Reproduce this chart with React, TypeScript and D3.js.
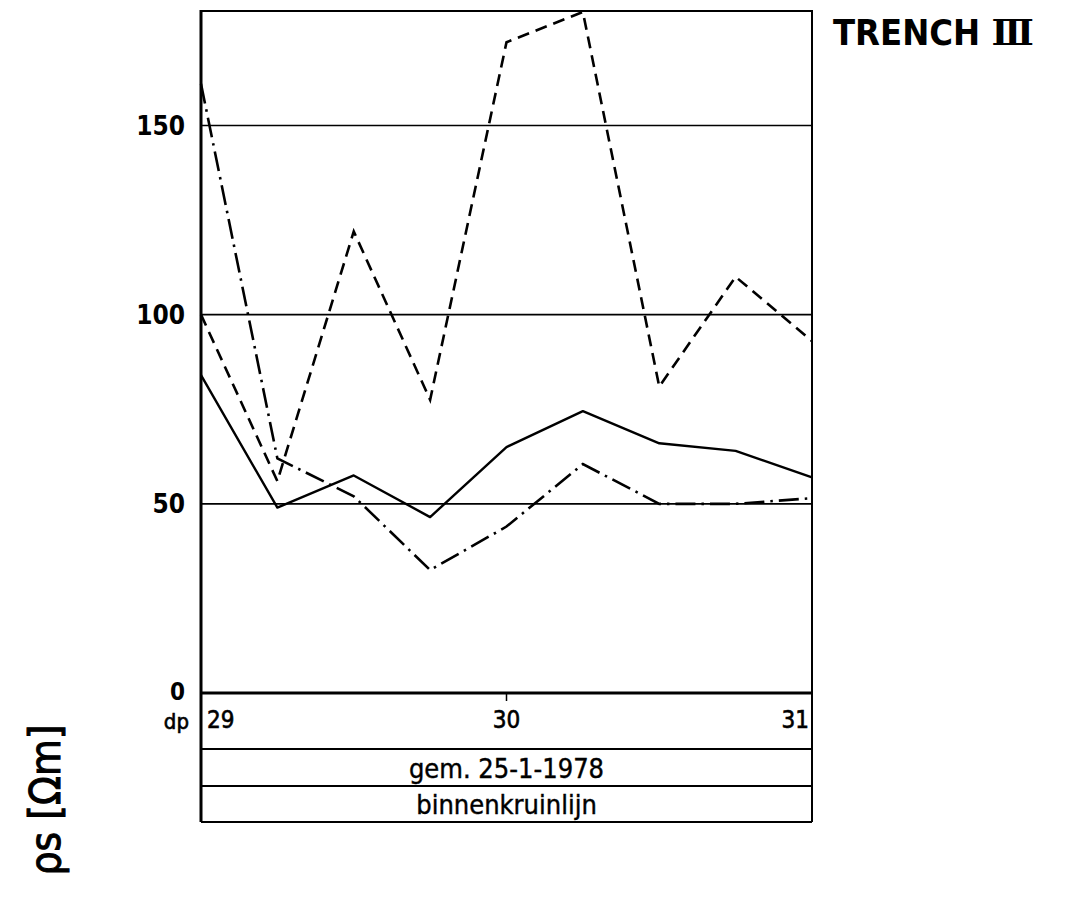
import React from "react";
import * as d3 from "d3";

const dp = [29, 29.25, 29.5, 29.75, 30, 30.25, 30.5, 30.75, 31];
const solidValues = [84, 49, 57.5, 46.5, 65, 74.5, 66, 64, 57];
const dashDotValues = [161, 62, 52, 32.5, 44, 60.5, 50, 50, 51.5];
const dashedValues = [100, 56, 122, 77.5, 172, 180, 81, 110, 93];
const yTicks = [0, 50, 100, 150];
const gridTicks = [50, 100, 150];
const xTicks = [29, 30, 31];
const title = "TRENCH ";
const titleNumeral = "III";
const dateLabel = "gem. 25-1-1978";
const lineLabel = "binnenkruinlijn";

export default function App() {
  const W = 1070, H = 903;
  const left = 201, right = 812, top = 12, bottom = 693;
  const x = d3.scaleLinear().domain([29, 31]).range([left, right]);
  const y = d3.scaleLinear().domain([0, 180]).range([bottom, top]);
  const line = d3.line<number>().x((_, i) => x(dp[i])).y((v) => y(v));
  const condFont = "'DejaVu Sans Condensed', 'DejaVu Sans', sans-serif";
  const rowLine1 = 749, rowLine2 = 786, boxBottom = 822;

  return (
    <svg width={W} height={H} style={{ position: "absolute", left: 0, top: 0, background: "#fff" }}>
      <rect x={0} y={0} width={W} height={H} fill="#fff" />
      {/* grid lines */}
      {gridTicks.map((t) => (
        <line key={t} x1={left} x2={right} y1={y(t)} y2={y(t)} stroke="#000" strokeWidth={1.6} />
      ))}
      {/* frame */}
      <line x1={left} x2={right} y1={top - 1} y2={top - 1} stroke="#000" strokeWidth={2} />
      <line x1={left} x2={left} y1={top - 2} y2={boxBottom} stroke="#000" strokeWidth={3} />
      <line x1={right} x2={right} y1={top - 2} y2={boxBottom} stroke="#000" strokeWidth={2} />
      <line x1={left} x2={right} y1={bottom} y2={bottom} stroke="#000" strokeWidth={3} />
      <line x1={left} x2={right} y1={rowLine1} y2={rowLine1} stroke="#000" strokeWidth={1.8} />
      <line x1={left} x2={right} y1={rowLine2} y2={rowLine2} stroke="#000" strokeWidth={1.8} />
      <line x1={left} x2={right} y1={boxBottom} y2={boxBottom} stroke="#000" strokeWidth={1.8} />
      {/* x tick at 30 */}
      <line x1={x(30)} x2={x(30)} y1={bottom} y2={bottom + 8} stroke="#000" strokeWidth={1.5} />
      {/* series */}
      <path d={line(solidValues) || ""} fill="none" stroke="#000" strokeWidth={2.4} strokeLinejoin="round" />
      <path d={line(dashDotValues) || ""} fill="none" stroke="#000" strokeWidth={2.6} strokeDasharray="20 6 2.5 6" />
      <path d={line(dashedValues) || ""} fill="none" stroke="#000" strokeWidth={2.6} strokeDasharray="12 7" />
      {/* y tick labels */}
      {yTicks.map((t) => (
        <text key={t} x={185} y={t === 0 ? y(t) + 7 : y(t) + 9.5} textAnchor="end" fontFamily={condFont} fontSize={t === 0 ? 24 : 26} fontWeight="bold">
          {t}
        </text>
      ))}
      {/* x tick labels */}
      <text x={189} y={729} textAnchor="end" fontFamily={condFont} fontSize={22} stroke="#000" strokeWidth={0.6}>dp</text>
      {xTicks.map((t, i) => (
        <text
          key={t}
          x={i === 0 ? x(t) + 6 : i === xTicks.length - 1 ? x(t) - 3 : x(t)}
          y={728}
          textAnchor={i === 0 ? "start" : i === xTicks.length - 1 ? "end" : "middle"}
          fontFamily={condFont}
          fontSize={24}
          stroke="#000"
          strokeWidth={0.6}
        >
          {t}
        </text>
      ))}
      <text x={x(30)} y={778} textAnchor="middle" fontFamily={condFont} fontSize={27} stroke="#000" strokeWidth={0.4}>{dateLabel}</text>
      <text x={x(30)} y={814} textAnchor="middle" fontFamily={condFont} fontSize={27} stroke="#000" strokeWidth={0.4}>{lineLabel}</text>
      {/* title */}
      <text x={833} y={45} fontFamily={condFont} fontSize={36} fontWeight="bold">
        {title}
        <tspan fontFamily="'DejaVu Serif', 'Liberation Serif', serif" fontWeight="bold" letterSpacing={-4}>{titleNumeral}</tspan>
      </text>
      {/* y axis label */}
      <text
        transform="translate(60,800) rotate(-90)"
        textAnchor="middle"
        fontFamily={condFont}
        fontSize={42}
        stroke="#000"
        strokeWidth={1}
      >
        ρs [Ωm]
      </text>
    </svg>
  );
}
